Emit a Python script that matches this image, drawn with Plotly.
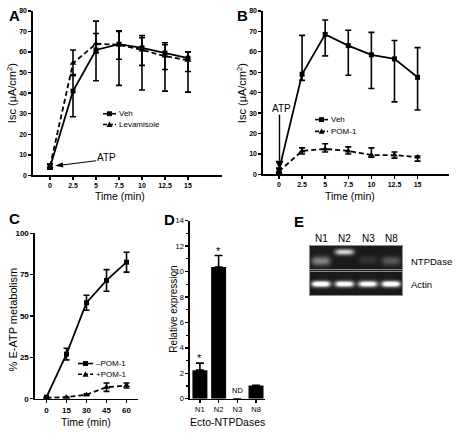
import numpy as np
import plotly.graph_objects as go

W, H = 460, 442
def px(x): return x / W
def py(y): return 1 - y / H

# ---------------- data ----------------
# Panel A
time_ab = [0, 2.5, 5, 7.5, 10, 12.5, 15]
tick_ab = ['0', '2.5', '5', '7.5', '10', '12.5', '15']
a_veh = [4, 41, 61, 63.8, 62, 59.5, 57]
a_veh_plus = [1.5, 8, 8, 6.5, 6, 5, 3]
a_veh_minus = [1, 12.5, 15, 20, 20.5, 18.5, 16.5]
a_lev = [4.5, 54.5, 64, 63.5, 61, 58, 56]
a_lev_plus = [1, 6.5, 11, 6.5, 6, 5.5, 4]
a_lev_minus = [1, 6, 4.5, 7, 7.5, 6.5, 5.5]
# Panel B
b_veh = [2, 49, 68.5, 63, 58.5, 56.5, 47.5]
b_veh_plus = [1, 19, 7, 7.5, 11, 9, 14.5]
b_veh_minus = [1, 3, 10.5, 14.5, 16.5, 21, 16]
b_pom = [1.5, 11.5, 12.5, 11.5, 9.5, 9.5, 8.5]
b_pom_plus = [1.5, 1.5, 2.5, 2, 3.5, 1.5, 0.5]
b_pom_minus = [1, 1.5, 1.5, 1.5, 1, 1.5, 2]
# Panel C
time_c = [0, 15, 30, 45, 60]
c_minus_pom = [1, 27, 58, 71.5, 82.5]
c_minus_err = [0, 3.5, 4.5, 6.5, 6]
c_plus_pom = [0.5, 1, 2.5, 7, 8]
c_plus_err = [0, 0, 0.5, 2.5, 1.5]
# Panel D
d_cats = ['N1', 'N2', 'N3', 'N8']
d_vals = [2.25, 10.35, 0, 1.05]
d_err = [0.55, 0.9, 0, 0]
# Panel E (gel band intensities, 0..1)
gel_lanes = ['N1', 'N2', 'N3', 'N8']
ntpdase_intensity = [0.42, 0.75, 0.1, 0.25]
actin_intensity = [1.0, 0.95, 0.95, 1.0]

FONT = 'Liberation Sans, Arial, sans-serif'
fig = go.Figure()

ebar = dict(type='data', symmetric=False, thickness=1.6, width=3, color='black')
def err(plus, minus):
    d = dict(ebar); d['array'] = plus; d['arrayminus'] = minus; return d

# A
fig.add_trace(go.Scatter(x=time_ab, y=a_veh, mode='lines+markers', xaxis='x', yaxis='y',
    line=dict(color='black', width=1.8), marker=dict(symbol='square', size=5, color='black'),
    error_y=err(a_veh_plus, a_veh_minus), cliponaxis=False, showlegend=False))
fig.add_trace(go.Scatter(x=time_ab, y=a_lev, mode='lines+markers', xaxis='x', yaxis='y',
    line=dict(color='black', width=1.8, dash='5px,3px'), marker=dict(symbol='triangle-up', size=6, color='black'),
    error_y=err(a_lev_plus, a_lev_minus), cliponaxis=False, showlegend=False))
# B
fig.add_trace(go.Scatter(x=time_ab, y=b_veh, mode='lines+markers', xaxis='x2', yaxis='y2',
    line=dict(color='black', width=1.8), marker=dict(symbol='square', size=5, color='black'),
    error_y=err(b_veh_plus, b_veh_minus), cliponaxis=False, showlegend=False))
fig.add_trace(go.Scatter(x=time_ab, y=b_pom, mode='lines+markers', xaxis='x2', yaxis='y2',
    line=dict(color='black', width=1.8, dash='5px,3px'), marker=dict(symbol='triangle-up', size=6, color='black'),
    error_y=err(b_pom_plus, b_pom_minus), cliponaxis=False, showlegend=False))
# C
fig.add_trace(go.Scatter(x=time_c, y=c_minus_pom, mode='lines+markers', xaxis='x3', yaxis='y3',
    line=dict(color='black', width=1.8), marker=dict(symbol='square', size=5, color='black'),
    error_y=err(c_minus_err, c_minus_err), cliponaxis=False, showlegend=False))
fig.add_trace(go.Scatter(x=time_c, y=c_plus_pom, mode='lines+markers', xaxis='x3', yaxis='y3',
    line=dict(color='black', width=1.8, dash='5px,3px'), marker=dict(symbol='triangle-up', size=6, color='black'),
    error_y=err(c_plus_err, c_plus_err), cliponaxis=False, showlegend=False))
# D
fig.add_trace(go.Bar(x=d_cats, y=d_vals, xaxis='x4', yaxis='y4', width=0.8,
    marker=dict(color='black', line=dict(width=0)),
    error_y=dict(type='data', array=d_err, arrayminus=[0]*4, symmetric=False, thickness=1.6, width=4, color='black'),
    showlegend=False))

# E gel (rendered image from lane intensities)
gx = np.arange(309.5, 403.0, 1.0)
gy = np.arange(246.5, 298.0, 1.0)
X, Y = np.meshgrid(gx, gy)
z = np.full(X.shape, 0.1)
lane_cx = [321, 344.5, 368, 391]
nt_cy = [262, 253, 261, 262]
nt_sig = [4.5, 3.0, 4.5, 4.5]
for i in range(4):
    prof_x = np.exp(-((X - lane_cx[i]) / 9.5) ** 4)
    z += ntpdase_intensity[i] * prof_x * np.exp(-((Y - nt_cy[i]) / nt_sig[i]) ** 2)
    z += actin_intensity[i] * prof_x * np.exp(-((Y - 286) / 3.0) ** 2) * 1.1
z = np.clip(z, 0, 1)
z[(Y < 247.5) | (Y > 297) | (X < 310) | (X > 402)] = 0.55
z[(Y > 269.5) & (Y < 270.6)] = 0.55
z[(Y > 272.5) & (Y < 273.6)] = 0.55
z[(Y > 270.5) & (Y < 272.5)] = np.nan
fig.add_trace(go.Heatmap(x=gx, y=gy, z=z, xaxis='x5', yaxis='y5', zmin=0, zmax=1,
    colorscale=[[0, '#000000'], [1, '#ffffff']], showscale=False, hoverinfo='skip'))

# ---------------- axes ----------------
def ax_style(**kw):
    d = dict(showgrid=False, zeroline=False, showline=True, linecolor='black', linewidth=1.6,
             ticks='outside', ticklen=3, tickwidth=1.4, tickcolor='black', fixedrange=True)
    d.update(kw); return d

tf_small = dict(family=FONT, size=7, color='black', weight='bold')
layout = dict(
    xaxis=ax_style(domain=[px(33), px(222)], range=[-1.85, 18.7], anchor='y', tickvals=time_ab, ticktext=tick_ab, tickfont=tf_small),
    yaxis=ax_style(domain=[py(175), py(7)], range=[0, 80], anchor='x', dtick=10, tickfont=tf_small),
    xaxis2=ax_style(domain=[px(263), px(449)], range=[-1.73, 18.4], anchor='y2', tickvals=time_ab, ticktext=tick_ab, tickfont=tf_small),
    yaxis2=ax_style(domain=[py(174), py(7)], range=[0, 80], anchor='x2', dtick=10, tickfont=tf_small),
    xaxis3=ax_style(domain=[px(35), px(138)], range=[-8.6, 68.6], anchor='y3', tickvals=time_c,
                    tickfont=dict(family=FONT, size=8, color='black', weight='bold')),
    yaxis3=ax_style(domain=[py(403), py(234)], range=[0, 100], anchor='x3', dtick=25,
                    tickfont=dict(family=FONT, size=8, color='black', weight='bold')),
    xaxis4=ax_style(domain=[px(190), px(265)], range=[-0.53, 3.48], anchor='y4', type='category',
                    tickfont=dict(family=FONT, size=7.5, color='black')),
    yaxis4=ax_style(domain=[py(403), py(221)], range=[0, 14], anchor='x4', dtick=2,
                    tickfont=dict(family=FONT, size=7.5, color='black'),
                    minor=dict(dtick=1, ticks='outside', ticklen=2, tickwidth=1.2, tickcolor='black')),
    xaxis5=dict(domain=[px(309), px(403)], range=[309, 403], anchor='y5', visible=False, fixedrange=True),
    yaxis5=dict(domain=[py(298), py(246)], range=[298, 246], anchor='x5', visible=False, fixedrange=True),
)

ann = []
def text(x, y, s, size=10, bold=False, xanchor='center', yanchor='middle', angle=0):
    ann.append(dict(x=px(x), y=py(y), xref='paper', yref='paper', text=s, showarrow=False,
                    xanchor=xanchor, yanchor=yanchor, textangle=angle,
                    font=dict(family=FONT, size=size, color='black', weight='bold' if bold else 'normal')))

# panel letters
text(14, 12, 'A', 15, True)
text(243, 12, 'B', 15, True)
text(14, 219, 'C', 15, True)
text(169, 220, 'D', 15, True)
text(299, 222, 'E', 15, True)
# axis titles
text(12, 91, 'Isc (μA/cm<sup>2</sup>)', 11, angle=-90)
text(242, 91, 'Isc (μA/cm<sup>2</sup>)', 11, angle=-90)
text(120, 195.5, 'Time (min)', 10.5)
text(350, 195.5, 'Time (min)', 10.5)
text(13, 322, '% E-ATP metabolism', 11, angle=-90)
text(86, 427, 'Time (min)', 10.5)
text(174, 312, 'Relative expression', 10, angle=-90)
text(227, 427, 'Ecto-NTPDases', 10.5)
# gel labels
for name, cx in zip(gel_lanes, lane_cx):
    text(cx, 239, name, 10)
text(409, 263, 'NTPDase', 9.5, xanchor='left')
text(409, 286, 'Actin', 9.5, xanchor='left')
text(118, 157, 'ATP', 10, xanchor='right')
text(281, 107, 'ATP', 10)

# data-anchored annotations
for cat, v, e in zip(d_cats, d_vals, d_err):
    if v > 0 and e > 0:
        ann.append(dict(x=cat, y=v + e, xref='x4', yref='y4', text='*', showarrow=False, yanchor='bottom',
                        yshift=-3, font=dict(family=FONT, size=11, color='black')))
    if v == 0:
        ann.append(dict(x=cat, y=0, xref='x4', yref='y4', text='ND', showarrow=False, yanchor='bottom',
                        yshift=2, font=dict(family=FONT, size=7.5, color='black')))

shapes = []
def pline(x0, y0, x1, y1, w=1.2, dash='solid'):
    shapes.append(dict(type='line', xref='paper', yref='paper', x0=px(x0), x1=px(x1), y0=py(y0), y1=py(y1),
                       line=dict(color='black', width=w, dash=dash)))
def ppoly(pts):
    path = 'M ' + ' L '.join(f'{px(a)} {py(b)}' for a, b in pts) + ' Z'
    shapes.append(dict(type='path', xref='paper', yref='paper', path=path, fillcolor='black', line=dict(width=0)))

# ATP arrows
pline(96, 160, 62, 164.3, 1.1)
ppoly([(55, 165.2), (63.3, 166.8), (62.7, 161.6)])
pline(279.5, 113, 279.5, 160, 1.4)
ppoly([(275.5, 160), (283.5, 160), (279.5, 169)])

# manual legends
def legend_entry(x0, x1, y, dashed, symbol, label):
    pline(x0, y, x1, y, 1.6, '4px,2px' if dashed else 'solid')
    cx = (x0 + x1) / 2
    if symbol == 'square':
        shapes.append(dict(type='rect', xref='paper', yref='paper', x0=px(cx - 2.5), x1=px(cx + 2.5),
                           y0=py(y + 2.5), y1=py(y - 2.5), fillcolor='black', line=dict(width=0)))
    else:
        ppoly([(cx - 3, y + 2.5), (cx + 3, y + 2.5), (cx, y - 3)])
    text(x1 + 1, y, label, 8, xanchor='left')

legend_entry(103, 116, 112, False, 'square', 'Veh')
legend_entry(103, 116, 123, True, 'tri', 'Levamisole')
legend_entry(315, 328, 118, False, 'square', 'Veh')
legend_entry(315, 328, 130, True, 'tri', 'POM-1')
legend_entry(78, 93, 367, False, 'square', '–POM-1')
legend_entry(78, 93, 378, True, 'tri', '+POM-1')

fig.update_layout(width=W, height=H, margin=dict(l=0, r=0, t=0, b=0), paper_bgcolor='white',
                  plot_bgcolor='rgba(0,0,0,0)', annotations=ann, shapes=shapes, showlegend=False,
                  font=dict(family=FONT, color='black'), **layout)
fig.write_html('out.html', config={'displayModeBar': False, 'staticPlot': True},
               post_script="document.body.style.margin='0';document.body.style.overflow='hidden';")
